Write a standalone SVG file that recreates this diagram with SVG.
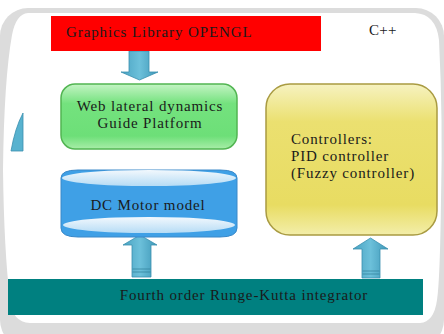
<svg xmlns="http://www.w3.org/2000/svg" width="444" height="334" viewBox="0 0 444 334">
<defs>
<style>
.t{font-family:"Liberation Serif","Times New Roman",serif;font-size:15px;fill:#1a1a1a;letter-spacing:0.85px}
.arrow{fill:url(#arrowGrad);stroke:#3a8fae;stroke-width:0.8}
</style>
<linearGradient id="arrowGrad" x1="0" y1="0" x2="1" y2="0">
<stop offset="0" stop-color="#4aa3c2"/>
<stop offset="0.5" stop-color="#6cc0da"/>
<stop offset="1" stop-color="#3f98b8"/>
</linearGradient>
<linearGradient id="greenGrad" x1="0" y1="0" x2="0" y2="1">
<stop offset="0" stop-color="#c4f4c4"/>
<stop offset="0.3" stop-color="#74e27e"/>
<stop offset="0.8" stop-color="#6ddf78"/>
<stop offset="1" stop-color="#a8eda8"/>
</linearGradient>
<linearGradient id="yellowGrad" x1="0" y1="0" x2="0" y2="1">
<stop offset="0" stop-color="#f6f2c0"/>
<stop offset="0.25" stop-color="#ebe070"/>
<stop offset="0.8" stop-color="#e8dc62"/>
<stop offset="1" stop-color="#f3eeaa"/>
</linearGradient>
<linearGradient id="capGrad" x1="0" y1="0" x2="0" y2="1">
<stop offset="0" stop-color="#f2f8fd"/>
<stop offset="1" stop-color="#b6dcf5"/>
</linearGradient>
</defs>

<g id="background">
<rect x="0" y="8" width="444" height="340" rx="28" fill="#dcdcdc"/>
<path d="M28,13 L415,13 Q436,14 439,40 Q443,120 441,200 Q440,280 437,300 Q434,322 420,323 L30,323 Q12,322 10,300 Q4,250 3,170 Q4,80 12,35 Q16,14 28,13 Z" fill="#ffffff"/>
<path d="M23,113 L23,151 L11,151 Q15,128 23,113 Z" fill="#58b2cf" stroke="#3a8fae" stroke-width="0.8"/>
</g>

<g id="connectors">
<path class="arrow" d="M129,51 L149,51 L149,72 L158,72 L139.5,80 L121,72 L129,72 Z"/>
<path class="arrow" d="M132,277 L151,277 L151,245 L157,245 L140,235 L123,245 L132,245 Z"/>
<path class="arrow" d="M362,278 L380,278 L380,249 L388,249 L370.5,238 L353,249 L362,249 Z"/>
<g stroke="#2f7f99" stroke-width="0.7">
<line x1="132.5" y1="269" x2="150.5" y2="269"/>
<line x1="132.5" y1="272" x2="150.5" y2="272"/>
<line x1="362.5" y1="271" x2="379.5" y2="271"/>
<line x1="362.5" y1="274" x2="379.5" y2="274"/>
</g>
</g>

<g id="opengl">
<rect x="51" y="16" width="270" height="35" fill="#ff0000"/>
<text class="t" x="66" y="37" style="letter-spacing:0.9px">Graphics Library OPENGL</text>
</g>

<g id="cpp">
<text class="t" x="369" y="35" style="letter-spacing:0.3px">C++</text>
</g>

<g id="platform">
<rect x="61" y="84" width="176" height="65" rx="14" fill="url(#greenGrad)" stroke="#52b552" stroke-width="1.5"/>
<text class="t" x="150" y="111" text-anchor="middle">Web lateral dynamics</text>
<text class="t" x="150" y="128" text-anchor="middle">Guide Platform</text>
</g>

<g id="motor">
<path d="M61,178 Q61,170 78,170 L220,170 Q237,170 237,178 L237,228 Q237,237 220,237 L78,237 Q61,237 61,228 Z" fill="#3fa0e6" stroke="#3a88c8" stroke-width="1"/>
<ellipse cx="149" cy="178" rx="87" ry="8" fill="url(#capGrad)"/>
<ellipse cx="149" cy="225" rx="86" ry="8" fill="url(#capGrad)"/>
<text class="t" x="148" y="210" text-anchor="middle">DC Motor model</text>
</g>

<g id="controllers">
<rect x="266" y="84" width="171" height="151" rx="24" fill="url(#yellowGrad)" stroke="#a99b42" stroke-width="1.5"/>
<text class="t" x="291" y="144">Controllers:</text>
<text class="t" x="291" y="161">PID controller</text>
<text class="t" x="291" y="178">(Fuzzy controller)</text>
</g>

<g id="integrator">
<rect x="8" y="279" width="415" height="36" fill="#008080"/>
<text class="t" x="244" y="300" text-anchor="middle">Fourth order Runge-Kutta integrator</text>
</g>
</svg>
